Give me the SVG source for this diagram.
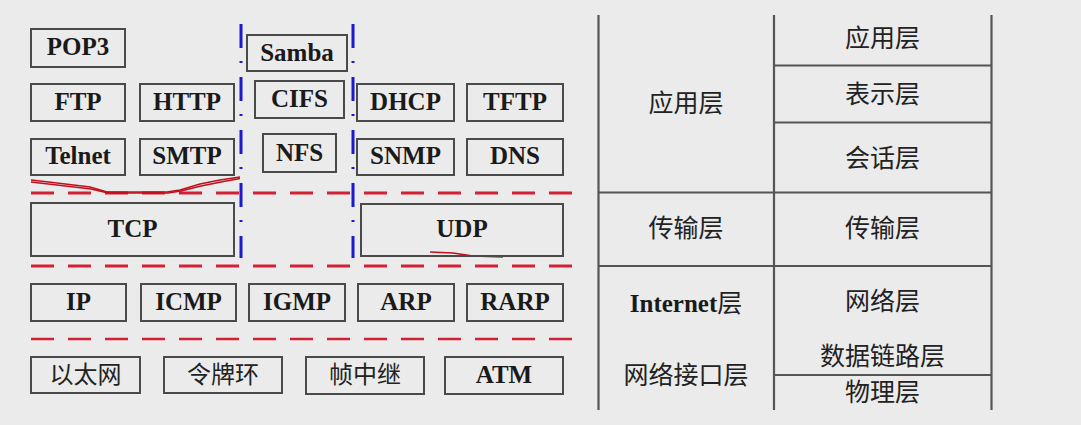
<svg xmlns="http://www.w3.org/2000/svg" width="1081" height="425" viewBox="0 0 1081 425">
<style>
.bx{fill:none;stroke:#4a4a4a;stroke-width:2}
.t{font-family:"Liberation Serif","Times New Roman",serif;font-weight:bold;font-size:25px;fill:#1a1a1a;text-anchor:middle}
.c{font-family:"Noto Sans CJK SC","Noto Sans",sans-serif;font-size:24px;fill:#222;text-anchor:middle}
.ct{font-family:"Noto Sans CJK SC","Noto Sans",sans-serif;font-size:25px;fill:#222;text-anchor:middle}
.red{stroke:#d22034;fill:none;stroke-dasharray:23 14}
.blue{stroke:#1a1ad0;stroke-width:3;fill:none;stroke-dasharray:24 13 2 14}
.tl{stroke:#555;stroke-width:2.2;fill:none}
.hand{stroke:#c0101e;stroke-width:1.6;fill:none}
</style>
<rect width="1081" height="425" fill="#ebebeb"/>

<g id="connectors">
  <line class="red" x1="31" y1="193" x2="573" y2="193" stroke-width="3"/>
  <line class="red" x1="31" y1="266" x2="573" y2="266" stroke-width="3"/>
  <line class="red" x1="31" y1="339" x2="573" y2="339" stroke-width="2.5"/>
  <line class="blue" x1="241" y1="24" x2="241" y2="258"/>
  <line class="blue" x1="353" y1="24" x2="353" y2="258"/>
  <polyline class="hand" points="31,180 57,183 90,187 107,192 167,192 180,190 200,184 220,180 240,177"/>
  <polyline class="hand" points="31,182 57,185 91,189 108,193 168,193 181,191 201,186 221,182 240,178.5"/>
  <polyline class="hand" points="430,252 453,253 473,256 503,257"/>
</g>

<g id="pop3"><rect class="bx" x="31" y="29" width="94" height="38"/><text class="t" x="78" y="55">POP3</text></g>
<g id="ftp"><rect class="bx" x="31" y="84" width="94" height="37"/><text class="t" x="78" y="110">FTP</text></g>
<g id="http"><rect class="bx" x="140" y="84" width="94" height="37"/><text class="t" x="187" y="110">HTTP</text></g>
<g id="telnet"><rect class="bx" x="31" y="139" width="94" height="36"/><text class="t" x="78" y="164">Telnet</text></g>
<g id="smtp"><rect class="bx" x="140" y="139" width="94" height="36"/><text class="t" x="187" y="164">SMTP</text></g>
<g id="samba"><rect class="bx" x="247" y="35" width="100" height="36"/><text class="t" x="297" y="61">Samba</text></g>
<g id="cifs"><rect class="bx" x="255" y="81" width="89" height="37"/><text class="t" x="299.5" y="107">CIFS</text></g>
<g id="nfs"><rect class="bx" x="263" y="134" width="73" height="38"/><text class="t" x="299.5" y="161">NFS</text></g>
<g id="dhcp"><rect class="bx" x="357" y="84" width="97" height="37"/><text class="t" x="405.5" y="110">DHCP</text></g>
<g id="tftp"><rect class="bx" x="467" y="84" width="96" height="37"/><text class="t" x="515" y="110">TFTP</text></g>
<g id="snmp"><rect class="bx" x="357" y="139" width="97" height="36"/><text class="t" x="405.5" y="164">SNMP</text></g>
<g id="dns"><rect class="bx" x="467" y="139" width="96" height="36"/><text class="t" x="515" y="164">DNS</text></g>
<g id="tcp"><rect class="bx" x="31" y="203" width="203" height="53"/><text class="t" x="132.5" y="237">TCP</text></g>
<g id="udp"><rect class="bx" x="361" y="204" width="202" height="52"/><text class="t" x="462" y="237">UDP</text></g>
<g id="ip"><rect class="bx" x="31" y="284" width="95" height="37"/><text class="t" x="78.5" y="310">IP</text></g>
<g id="icmp"><rect class="bx" x="141" y="284" width="95" height="37"/><text class="t" x="188.5" y="310">ICMP</text></g>
<g id="igmp"><rect class="bx" x="249" y="284" width="96" height="37"/><text class="t" x="297" y="310">IGMP</text></g>
<g id="arp"><rect class="bx" x="358" y="284" width="96" height="37"/><text class="t" x="406" y="310">ARP</text></g>
<g id="rarp"><rect class="bx" x="467" y="284" width="96" height="37"/><text class="t" x="515" y="310">RARP</text></g>
<g id="ethernet"><rect class="bx" x="31" y="357" width="109" height="36"/><text class="c" x="85.5" y="383">以太网</text></g>
<g id="tokenring"><rect class="bx" x="164" y="357" width="118" height="36"/><text class="c" x="223" y="383">令牌环</text></g>
<g id="framerelay"><rect class="bx" x="306" y="357" width="118" height="37"/><text class="c" x="365" y="383">帧中继</text></g>
<g id="atm"><rect class="bx" x="445" y="357" width="118" height="37"/><text class="t" x="504" y="383">ATM</text></g>

<g id="model-table">
  <line class="tl" x1="598.5" y1="15" x2="598.5" y2="410"/>
  <line class="tl" x1="774" y1="15" x2="774" y2="410"/>
  <line class="tl" x1="991.5" y1="15" x2="991.5" y2="410"/>
  <line class="tl" x1="774" y1="65.5" x2="991.5" y2="65.5"/>
  <line class="tl" x1="774" y1="122.5" x2="991.5" y2="122.5"/>
  <line class="tl" x1="598.5" y1="192.5" x2="991.5" y2="192.5"/>
  <line class="tl" x1="598.5" y1="266" x2="991.5" y2="266"/>
  <line class="tl" x1="774" y1="375" x2="991.5" y2="375"/>
</g>
<g id="tcpip-app"><text class="ct" x="686" y="112">应用层</text></g>
<g id="tcpip-transport"><text class="ct" x="686" y="237">传输层</text></g>
<g id="tcpip-internet"><text x="686" y="312" text-anchor="middle" fill="#1a1a1a"><tspan font-family="'Liberation Serif','Times New Roman',serif" font-weight="bold" font-size="25">Internet</tspan><tspan font-family="'Noto Sans CJK SC',sans-serif" font-size="25" fill="#222">层</tspan></text></g>
<g id="tcpip-netif"><text class="ct" x="686" y="384">网络接口层</text></g>
<g id="osi-app"><text class="ct" x="882.5" y="47">应用层</text></g>
<g id="osi-pres"><text class="ct" x="882.5" y="103">表示层</text></g>
<g id="osi-sess"><text class="ct" x="882.5" y="167">会话层</text></g>
<g id="osi-trans"><text class="ct" x="882.5" y="237">传输层</text></g>
<g id="osi-net"><text class="ct" x="882.5" y="310">网络层</text></g>
<g id="osi-link"><text class="ct" x="882.5" y="365">数据链路层</text></g>
<g id="osi-phys"><text class="ct" x="882.5" y="401">物理层</text></g>
</svg>
